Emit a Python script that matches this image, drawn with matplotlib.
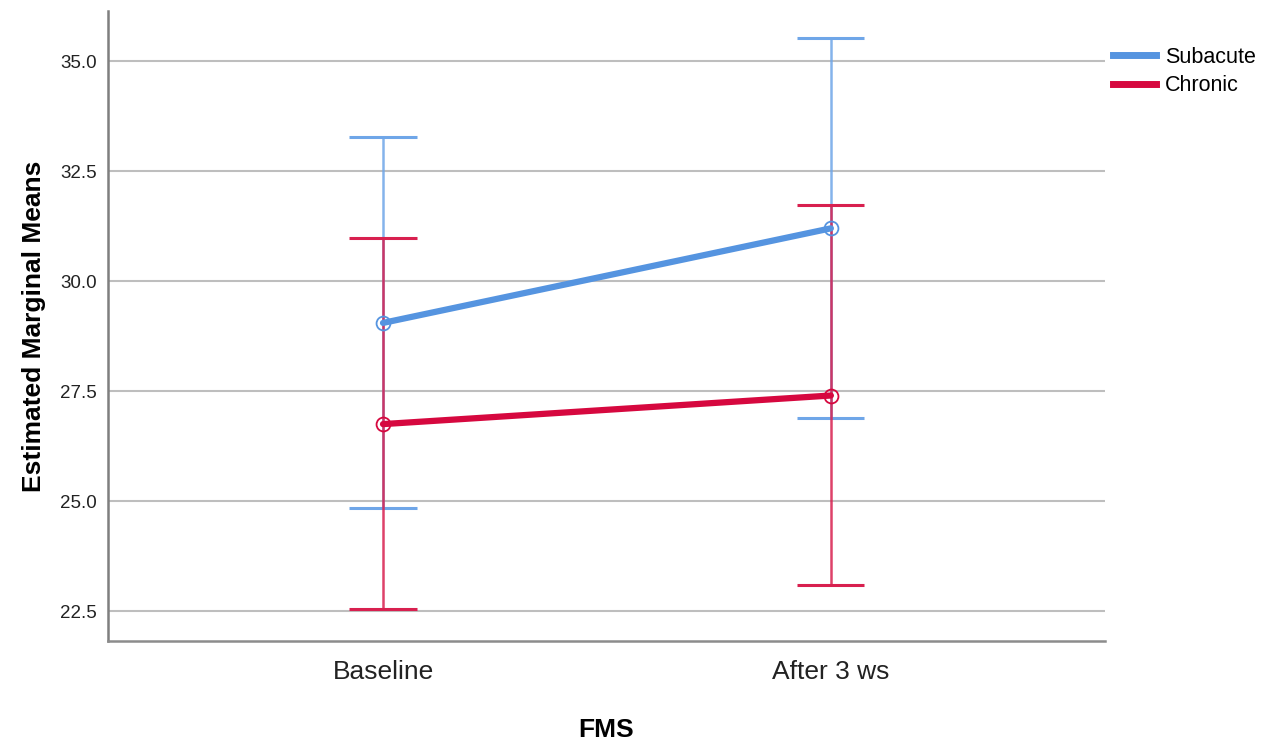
import matplotlib
matplotlib.use("Agg")
import matplotlib.pyplot as plt
from matplotlib.lines import Line2D

categories = ["Baseline", "After 3 ws"]
groups = ["Subacute", "Chronic"]
subacute_mean = [29.05, 31.20]
subacute_lower = [24.85, 26.90]
subacute_upper = [33.27, 35.53]
chronic_mean = [26.75, 27.40]
chronic_lower = [22.55, 23.10]
chronic_upper = [30.97, 31.72]
yticks = [22.5, 25.0, 27.5, 30.0, 32.5, 35.0]

colors = {"Subacute": "#5594E0", "Chronic": "#D6083F"}
ebar_colors = {"Subacute": "#6FA6E8", "Chronic": "#D8204F"}

plt.rcParams["font.family"] = ["Liberation Sans", "DejaVu Sans"]

fig = plt.figure(figsize=(12.63, 7.41), dpi=100)
ax = fig.add_axes([108/1263, 100/741, (1105-108)/1263, (641-11)/741])

x = list(range(len(categories)))
series = [
    ("Subacute", subacute_mean, subacute_lower, subacute_upper),
    ("Chronic", chronic_mean, chronic_lower, chronic_upper),
]
cap = 0.075
for name, m, lo, hi in series:
    ec = ebar_colors[name]
    for xi, l, h in zip(x, lo, hi):
        ax.plot([xi, xi], [l, h], color=ec, lw=1.8, alpha=0.85, zorder=3, solid_capstyle="butt")
        ax.plot([xi - cap, xi + cap], [l, l], color=ec, lw=2.2, zorder=3, solid_capstyle="butt")
        ax.plot([xi - cap, xi + cap], [h, h], color=ec, lw=2.2, zorder=3, solid_capstyle="butt")
for name, m, lo, hi in series:
    ax.plot(x, m, color=colors[name], lw=4.5, zorder=4, solid_capstyle="round")
    ax.plot(x, m, linestyle="none", marker="o", markersize=10, markerfacecolor="none",
            markeredgecolor=colors[name], markeredgewidth=1.3, zorder=5)

ax.set_xlim(-0.614, 1.612)
ax.set_ylim(21.82, 36.14)
ax.set_xticks(x)
ax.set_xticklabels(categories, fontsize=19, color="#222222")
ax.set_yticks(yticks)
ax.set_yticklabels([f"{v:.1f}" for v in yticks], fontsize=13.5, color="#222222")
ax.tick_params(axis="both", length=0)
ax.tick_params(axis="x", pad=14)
ax.tick_params(axis="y", pad=8)
ax.yaxis.grid(True, color="#BEBEBE", lw=1.5)
ax.set_axisbelow(True)
for s in ["top", "right"]:
    ax.spines[s].set_visible(False)
ax.spines["left"].set_color("#7F7F7F")
ax.spines["left"].set_linewidth(1.8)
ax.spines["bottom"].set_color("#8C8C8C")
ax.spines["bottom"].set_linewidth(1.8)

ax.set_ylabel("Estimated Marginal Means", fontsize=19, fontweight="bold", labelpad=10)
ax.set_xlabel("FMS", fontsize=19, fontweight="bold", labelpad=24)

handles = [Line2D([0], [0], color=colors[g], lw=5) for g in groups]
fig.legend(handles, groups, loc="upper left", bbox_to_anchor=(1104/1263, 1 - 38/741),
           frameon=False, fontsize=15.5, handlelength=2.0, handletextpad=0.45,
           labelspacing=0.35, borderaxespad=0)

fig.savefig("out.png", dpi=100)
